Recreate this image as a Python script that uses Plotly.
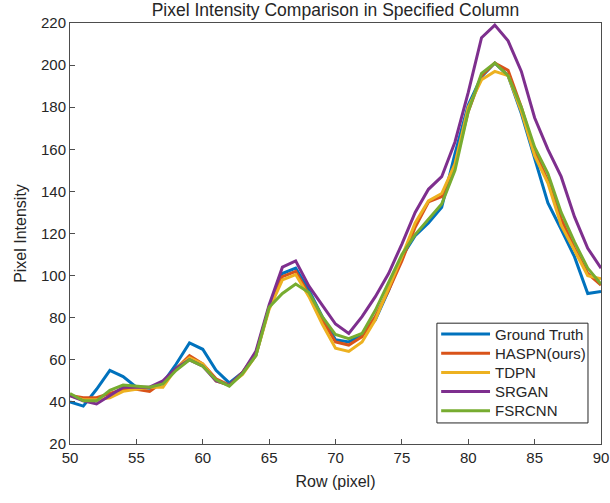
import plotly.graph_objects as go

rows = list(range(50, 91))

ground_truth = [40, 38, 46, 55, 52, 47, 46.5, 49, 58, 68, 65, 55, 49, 54, 62, 85, 101, 103.5, 93, 80.5, 69.5,
                68.5, 72, 79, 93, 109, 119, 125, 132.5, 158, 181, 194.5, 201, 195, 177, 156, 134.5, 122, 109, 91.5, 92.5]
haspn = [43, 42, 42, 44, 46, 46, 45, 49.5, 56, 62, 58, 51, 48, 54, 63, 85, 99.5, 102, 91, 79, 68.5,
         67, 71, 80.5, 93, 107, 123, 135, 137.5, 153, 178, 195, 201, 197.5, 180, 159, 145, 127, 113, 101, 95.5]
tdpn = [43, 41, 41, 42, 45, 46, 47, 47, 56, 61, 58, 50, 48, 53, 62, 84, 98, 100.5, 90, 77, 65.5,
        64, 68.5, 79, 94, 109, 125, 135.5, 139, 153, 180, 193, 197, 195, 178, 157, 144, 124, 112, 100, 98.5]
srgan = [43, 40.5, 39, 43, 47, 47, 47, 50, 56, 60, 57, 50, 48, 54, 64, 86, 104, 107, 95, 86, 77,
         72.5, 80.5, 90, 101, 115, 130, 141, 147, 163.5, 187, 213, 219, 211.5, 197, 175, 160, 147, 128, 113, 103.5]
fsrcnn = [44, 40.5, 40.5, 45.5, 48, 47.5, 47, 48.5, 55, 60, 57, 50.5, 47.5, 53.5, 62, 85, 91.5, 96, 92, 80.5, 72,
          70, 72.5, 83.5, 97, 110, 119.5, 126.5, 134, 150, 178, 196, 201, 195, 180, 161, 148.5, 130, 116, 103.5, 96]

series = [
    ("Ground Truth", ground_truth, "#0072BD"),
    ("HASPN(ours)", haspn, "#D95319"),
    ("TDPN", tdpn, "#EDB120"),
    ("SRGAN", srgan, "#7E2F8E"),
    ("FSRCNN", fsrcnn, "#77AC30"),
]

fig = go.Figure()
for name, vals, col in series:
    fig.add_trace(go.Scatter(x=rows, y=vals, mode="lines", name=name,
                             line=dict(color=col, width=3), showlegend=False))

# MATLAB-style legend box (plotly's own legend spaces rows too loosely)
fig.add_shape(type="rect", xref="paper", yref="paper", x0=0.691, x1=0.9755, y0=0.050, y1=0.287,
              line=dict(color="#262626", width=1), fillcolor="white", layer="above")
for i, (name, vals, col) in enumerate(series):
    yy = 0.261 - i * 0.0455
    fig.add_shape(type="line", xref="paper", yref="paper", x0=0.699, x1=0.791, y0=yy, y1=yy,
                  line=dict(color=col, width=3), layer="above")
    fig.add_annotation(text=name, xref="paper", yref="paper", x=0.797, y=yy,
                       xanchor="left", yanchor="middle", showarrow=False,
                       font=dict(size=15, color="#262626"))

font = "Liberation Sans, Arial, sans-serif"
axis_common = dict(showgrid=False, zeroline=False, mirror=True, showline=True,
                   linecolor="#4d4d4d", linewidth=1, ticks="inside", ticklen=5,
                   tickcolor="#4d4d4d", tickfont=dict(size=15, color="#262626"),
                   ticklabeloverflow="allow")

fig.update_layout(
    width=610, height=503,
    margin=dict(l=70, r=9, t=23, b=59),
    paper_bgcolor="white", plot_bgcolor="white",
    font=dict(family=font, color="#262626"),
    title=dict(text="Pixel Intensity Comparison in Specified Column", x=0.5, xref="paper",
               y=0.981, yanchor="middle", font=dict(size=17.5, color="#262626")),
)
fig.update_xaxes(range=[50, 90], tickvals=[50, 55, 60, 65, 70, 75, 80, 85, 90], automargin="bottom",
                 title=dict(text="Row (pixel)", font=dict(size=16), standoff=10), **axis_common)
fig.update_yaxes(range=[20, 220], tickvals=list(range(20, 221, 20)),
                 title=dict(text="Pixel Intensity", font=dict(size=16), standoff=10), **axis_common)

# drop the default 8px body margin so the figure sits at the window's corner
fig.write_html("out.html", config={"displayModeBar": False},
               post_script="document.body.style.margin='0px';")
